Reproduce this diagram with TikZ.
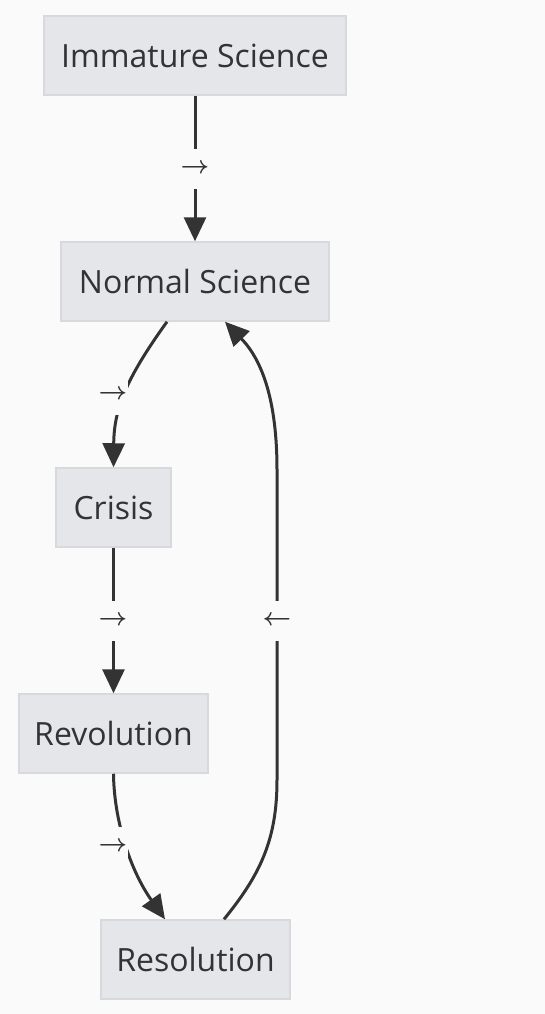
\documentclass[tikz,border=0pt]{standalone}
\usepackage{fontspec}
\setmainfont{Open Sans}
\usetikzlibrary{arrows.meta}
\definecolor{bgc}{HTML}{FAFAFA}
\definecolor{boxfill}{HTML}{E5E6EA}
\definecolor{boxline}{HTML}{D8D9DC}
\definecolor{ink}{HTML}{333333}
\tikzset{
  box/.style={draw=boxline, line width=1.5pt, fill=boxfill, text=ink, inner sep=0pt,
    minimum height=79pt, font=\fontsize{32}{38}\selectfont},
  edge/.style={draw=ink, line width=3pt, -{Triangle[length=24pt,width=22pt]}},
  lab/.style={fill=bgc, text=ink, inner sep=0pt, minimum width=30pt, minimum height=40pt,
    font=\fontsize{23}{27}\selectfont\boldmath}
}
\begin{document}
\begin{tikzpicture}[x=1pt,y=-1pt]
\fill[bgc] (0,0) rectangle (545,1014);
\useasboundingbox (0,0) rectangle (545,1014);
\node[box, minimum width=302pt] (imm) at (195,55.5) {Immature Science};
\node[box, minimum width=268pt] (norm) at (195,281.5) {Normal Science};
\node[box, minimum width=115pt] (cri) at (113.5,507.5) {Crisis};
\node[box, minimum width=189pt] (rev) at (113.5,733.5) {Revolution};
\node[box, minimum width=189pt] (res) at (195.5,959.5) {Resolution};

\draw[edge] (imm.south) -- (norm.north);
\draw[edge] ([xshift=-28pt]norm.south) .. controls (125,380) and (114,410) .. (cri.north);
\draw[edge] (cri.south) -- (rev.north);
\draw[edge] (rev.south) .. controls (114,820) and (130,870) .. ([xshift=-30.5pt]res.north);
\draw[edge] ([xshift=28.5pt]res.north) .. controls (260,875) and (277,840) .. (277,780)
   -- (277,470) .. controls (277,400) and (262,360) .. ([xshift=30pt]norm.south);

\node[lab] (l1) at (195,169) {$\rightarrow$};
\node[lab] (l2) at (113,395) {$\rightarrow$};
\node[lab] (l3) at (113,621) {$\rightarrow$};
\node[lab] (l4) at (113,847) {$\rightarrow$};
\node[lab] (l5) at (277,621) {$\leftarrow$};
\end{tikzpicture}
\end{document}
